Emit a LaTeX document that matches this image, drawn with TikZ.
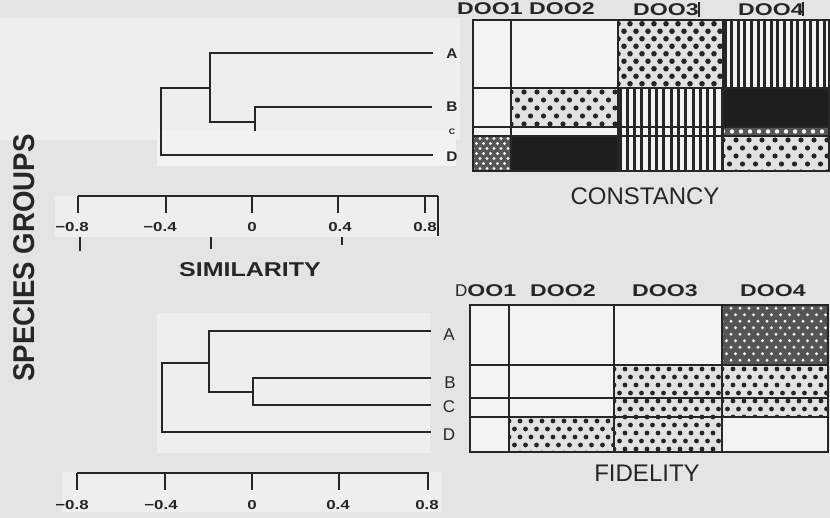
\documentclass[tikz,border=0pt]{standalone}
\usepackage{fontspec}
\setmainfont{Liberation Sans}
\newfontfamily\hdfont{Liberation Sans}[FakeStretch=1.36]
\newfontfamily\axfont{Liberation Sans}[FakeStretch=1.3]
\newfontfamily\simfont{Liberation Sans}[FakeStretch=1.25]
\newfontfamily\sidefont{Liberation Sans}[FakeStretch=0.92]
\newfontfamily\lblfont{Liberation Sans}[FakeStretch=1.1]
\definecolor{bggray}{HTML}{E4E4E4}
\definecolor{lightpatch}{HTML}{EEEEEE}
\definecolor{whitepatch}{HTML}{F2F2F2}
\definecolor{cellbg}{HTML}{F3F3F3}
\definecolor{dotbg}{HTML}{E2E2E2}
\definecolor{ink}{HTML}{262626}
\definecolor{darkfill}{HTML}{1E1E1E}
\definecolor{densebg}{HTML}{555555}
\tikzset{
  dendro/.style={draw=ink, line width=2.6, line cap=rect},
  gridln/.style={draw=ink, line width=2.2},
  axisln/.style={draw=ink, line width=2.2},
  tickln/.style={draw=ink, line width=2.2},
  header/.style={inner sep=0, text=ink, font=\hdfont\bfseries\fontsize{17}{17}\selectfont},
  ticklbl/.style={inner sep=0, text=ink, font=\axfont\bfseries\fontsize{13}{13}\selectfont},
  toplbl/.style={inner sep=0, text=ink, font=\lblfont\bfseries\fontsize{14}{14}\selectfont},
  botlbl/.style={inner sep=0, text=ink, font=\fontsize{17}{17}\selectfont},
  title/.style={inner sep=0, text=ink, font=\fontsize{24}{24}\selectfont},
}
% dark dots on light background
\newcommand\patdots[7]{%
  \begin{scope}
    \clip (#1,#2) rectangle (#3,#4);
    \fill[dotbg] (#1,#2) rectangle (#3,#4);
    \foreach \j in {0,...,12}{
      \foreach \i in {-1,...,14}{
        \pgfmathsetmacro\xx{#1+\i*#5+mod(\j,2)*#5/2}
        \pgfmathsetmacro\yy{#2+#6/2+\j*#6}
        \fill[ink] (\xx,\yy) circle[radius=#7];
      }
    }
  \end{scope}}
% light dots on dark background
\newcommand\patinv[7]{%
  \begin{scope}
    \clip (#1,#2) rectangle (#3,#4);
    \fill[densebg] (#1,#2) rectangle (#3,#4);
    \foreach \j in {0,...,12}{
      \foreach \i in {-1,...,16}{
        \pgfmathsetmacro\xx{#1+\i*#5+mod(\j,2)*#5/2}
        \pgfmathsetmacro\yy{#2+#6/2+\j*#6}
        \fill[cellbg] (\xx,\yy) circle[radius=#7];
      }
    }
  \end{scope}}
% vertical stripes
\newcommand\patvert[5]{%
  \begin{scope}
    \clip (#1,#2) rectangle (#3,#4);
    \fill[cellbg] (#1,#2) rectangle (#3,#4);
    \foreach \i in {0,...,20}{
      \pgfmathsetmacro\xx{#1+2+\i*#5}
      \draw[ink, line width=3] (\xx,#2) -- (\xx,#4);
    }
  \end{scope}}
\newcommand\patblank[4]{\fill[cellbg] (#1,#2) rectangle (#3,#4);}
\newcommand\patsolid[4]{\fill[darkfill] (#1,#2) rectangle (#3,#4);}

\begin{document}
\begin{tikzpicture}[x=1pt,y=-1pt]
\fill[bggray] (0,0) rectangle (830,518);
\useasboundingbox (0,0) rectangle (830,518);

% ---------- light patches ----------
\fill[lightpatch] (0,18) rectangle (460,140);
\fill[whitepatch] (157,130) rectangle (456,166);
\fill[lightpatch] (55,196) rectangle (440,237);
\fill[lightpatch] (157,313) rectangle (430,453);
\fill[lightpatch] (62,472) rectangle (442,512);

% ---------- side title ----------
\node[inner sep=0, text=ink, rotate=90, font=\sidefont\bfseries\fontsize{30}{30}\selectfont]
  (sg) at (24,258) {SPECIES GROUPS};

% ---------- top dendrogram ----------
\coordinate (tA) at (432,53);
\coordinate (tB) at (431,107);
\coordinate (tD) at (432,155);
\coordinate (t1) at (210,53);
\coordinate (t2) at (210,122);
\coordinate (t3) at (255,122);
\coordinate (t4) at (255,107);
\coordinate (t5) at (255,130);
\coordinate (t6) at (161,88);
\coordinate (t7) at (210,88);
\coordinate (t8) at (161,155);
\draw[dendro] (tA) -- (t1) -- (t2) -- (t3);
\draw[dendro] (tB) -- (t4) -- (t5);
\draw[dendro] (t7) -- (t6) -- (t8) -- (tD);

\node[toplbl] (ltA) at (452,54) {A};
\node[toplbl] (ltB) at (452,107) {B};
\node[toplbl, font=\lblfont\bfseries\fontsize{8}{8}\selectfont] (ltC) at (452,132) {C};
\node[toplbl] (ltD) at (452,157) {D};

% ---------- top axis ----------
\coordinate (ta0) at (78,196);
\coordinate (ta1) at (438,196);
\draw[axisln] (ta0) -- (ta1);
\foreach \x/\n in {78/a,166/b,252/c,338/d,425/e}{
  \coordinate (tt\n) at (\x,213);
  \draw[tickln] (\x,196) -- (tt\n);
}
\coordinate (tend) at (438,236);
\draw[tickln] (ta1) -- (tend);
\draw[ink, line width=1.6] (80,237) -- (80,251);
\draw[ink, line width=1.6] (211,237) -- (211,249);
\draw[ink, line width=1.6] (342,237) -- (342,245);
\node[ticklbl] (tl1) at (72,227) {−0.8};
\node[ticklbl] (tl2) at (160,227) {−0.4};
\node[ticklbl] (tl3) at (252,227) {0};
\node[ticklbl] (tl4) at (340,227) {0.4};
\node[ticklbl] (tl5) at (425,227) {0.8};
\node[inner sep=0, text=ink, font=\simfont\bfseries\fontsize{20}{20}\selectfont]
  (sim) at (250,270) {SIMILARITY};

% ---------- bottom dendrogram ----------
\coordinate (bA) at (430,331);
\coordinate (bB) at (430,378);
\coordinate (bC) at (430,405);
\coordinate (bD) at (430,432);
\coordinate (b1) at (209,331);
\coordinate (b2) at (209,392);
\coordinate (b3) at (253,392);
\coordinate (b4) at (253,378);
\coordinate (b5) at (253,405);
\coordinate (b6) at (162,363);
\coordinate (b7) at (209,363);
\coordinate (b8) at (162,432);
\draw[dendro] (bA) -- (b1) -- (b2) -- (b3);
\draw[dendro] (bB) -- (b4) -- (b5) -- (bC);
\draw[dendro] (b7) -- (b6) -- (b8) -- (bD);

\node[botlbl] (lbA) at (449,335) {A};
\node[botlbl] (lbB) at (450,383) {B};
\node[botlbl] (lbC) at (449,407) {C};
\node[botlbl] (lbD) at (449,435) {D};

% ---------- bottom axis ----------
\coordinate (ba0) at (77,473);
\coordinate (ba1) at (429,473);
\draw[axisln] (ba0) -- (ba1);
\foreach \x/\n in {77/a,165/b,252/c,339/d,428/e}{
  \coordinate (bt\n) at (\x,490);
  \draw[tickln] (\x,473) -- (bt\n);
}
\node[ticklbl] (bl1) at (72,505) {−0.8};
\node[ticklbl] (bl2) at (161,505) {−0.4};
\node[ticklbl] (bl3) at (252,505) {0};
\node[ticklbl] (bl4) at (338,505) {0.4};
\node[ticklbl] (bl5) at (427,505) {0.8};

% ---------- CONSTANCY grid ----------
% columns 473 511 618 723 829 ; rows 20 88 127 136 171
\patblank{473}{20}{511}{88}
\patblank{473}{88}{511}{127}
\patblank{473}{127}{511}{136}
\patinv{473}{136}{511}{171}{7}{5}{1.6}
\patblank{511}{20}{618}{88}
\patdots{511}{88}{618}{127}{13}{8}{2.6}
\patblank{511}{127}{618}{136}
\patsolid{511}{136}{618}{171}
\patdots{618}{20}{723}{88}{12}{7.5}{2.8}
\patvert{618}{88}{723}{127}{7.3}
\patvert{618}{127}{723}{136}{7.3}
\patvert{618}{136}{723}{171}{7.3}
\patvert{723}{20}{829}{88}{6.6}
\patsolid{723}{88}{829}{127}
\patinv{723}{127}{829}{136}{9}{9}{2.2}
\patdots{723}{136}{829}{171}{13}{8}{2.6}
\draw[gridln] (473,20) rectangle (829,171);
\foreach \x in {511,618,723}{\draw[gridln] (\x,20) -- (\x,171);}
\foreach \y in {88,127,136}{\draw[gridln] (473,\y) -- (829,\y);}

\node[header, anchor=west] (ch12) at (457,9) {DOO1 DOO2};
\node[header] (ch3) at (666,10) {DOO3};
\node[header] (ch4) at (771,10) {DOO4};
\draw[ink, line width=1.6] (699,2) -- (699,17);
\draw[ink, line width=1.6] (803,2) -- (803,16);
\node[title] (cons) at (645,196) {CONSTANCY};

% ---------- FIDELITY grid ----------
% columns 470 509 614 722 828 ; rows 305 365 398 417 452
\patblank{470}{305}{509}{452}
\patblank{509}{305}{614}{417}
\patdots{509}{417}{614}{452}{11}{8}{2.4}
\patblank{614}{305}{722}{365}
\patdots{614}{365}{722}{452}{11}{8}{2.4}
\patinv{722}{305}{828}{365}{9}{6.5}{1.7}
\patdots{722}{365}{828}{417}{11}{8}{2.4}
\patblank{722}{417}{828}{452}
\draw[gridln] (470,305) rectangle (828,452);
\foreach \x in {509,614,722}{\draw[gridln] (\x,305) -- (\x,452);}
\foreach \y in {365,398,417}{\draw[gridln] (470,\y) -- (828,\y);}

\node[inner sep=0, anchor=west, text=ink] (fh1) at (455,291)
  {\fontsize{17}{17}\selectfont D\hdfont\bfseries OO1};
\node[header] (fh2) at (563,291) {DOO2};
\node[header] (fh3) at (665,291) {DOO3};
\node[header] (fh4) at (773,291) {DOO4};
\node[title] (fid) at (647,473) {FIDELITY};
\end{tikzpicture}
\end{document}
